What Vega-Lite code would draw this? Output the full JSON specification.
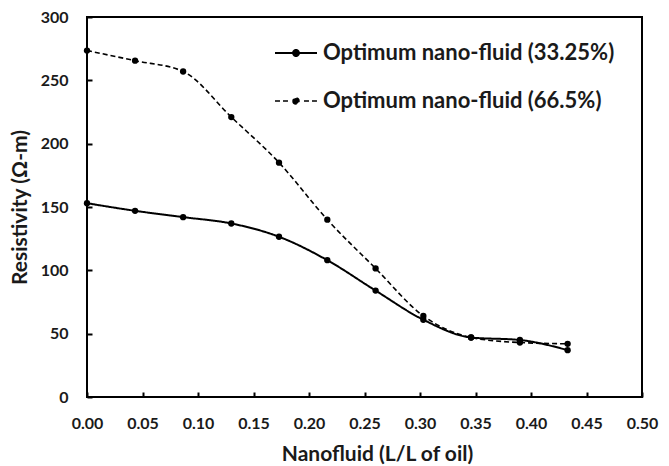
{
  "$schema": "https://vega.github.io/schema/vega-lite/v6.json",
  "width": 555,
  "height": 380,
  "autosize": "none",
  "padding": {"left": 87, "top": 17, "right": 27, "bottom": 69},
  "background": "white",
  "config": {
    "view": {"stroke": "black", "strokeWidth": 2},
    "font": "Lato",
    "axis": {
      "domain": false,
      "grid": false,
      "labelFlush": false,
      "labelFont": "Lato",
      "labelFontWeight": "bold",
      "labelFontSize": 16,
      "labelColor": "#1a1a1a",
      "titleFont": "Lato",
      "titleFontWeight": "bold",
      "titleFontSize": 21,
      "titleColor": "#1a1a1a",
      "tickColor": "black",
      "tickWidth": 2,
      "tickSize": -5
    }
  },
  "data": {
    "values": [
      {"x": 0, "y": 153, "series": "Optimum nano-fluid (33.25%)"},
      {"x": 0.0433, "y": 147, "series": "Optimum nano-fluid (33.25%)"},
      {"x": 0.0866, "y": 142, "series": "Optimum nano-fluid (33.25%)"},
      {"x": 0.13, "y": 137, "series": "Optimum nano-fluid (33.25%)"},
      {"x": 0.173, "y": 126.5, "series": "Optimum nano-fluid (33.25%)"},
      {"x": 0.2165, "y": 108, "series": "Optimum nano-fluid (33.25%)"},
      {"x": 0.26, "y": 84, "series": "Optimum nano-fluid (33.25%)"},
      {"x": 0.303, "y": 61, "series": "Optimum nano-fluid (33.25%)"},
      {"x": 0.346, "y": 47, "series": "Optimum nano-fluid (33.25%)"},
      {"x": 0.39, "y": 45, "series": "Optimum nano-fluid (33.25%)"},
      {"x": 0.433, "y": 37, "series": "Optimum nano-fluid (33.25%)"},
      {"x": 0, "y": 273.5, "series": "Optimum nano-fluid (66.5%)"},
      {"x": 0.0433, "y": 265.5, "series": "Optimum nano-fluid (66.5%)"},
      {"x": 0.0866, "y": 257, "series": "Optimum nano-fluid (66.5%)"},
      {"x": 0.13, "y": 221, "series": "Optimum nano-fluid (66.5%)"},
      {"x": 0.173, "y": 185, "series": "Optimum nano-fluid (66.5%)"},
      {"x": 0.2165, "y": 140, "series": "Optimum nano-fluid (66.5%)"},
      {"x": 0.26, "y": 101.5, "series": "Optimum nano-fluid (66.5%)"},
      {"x": 0.303, "y": 64, "series": "Optimum nano-fluid (66.5%)"},
      {"x": 0.346, "y": 47, "series": "Optimum nano-fluid (66.5%)"},
      {"x": 0.39, "y": 43, "series": "Optimum nano-fluid (66.5%)"},
      {"x": 0.433, "y": 42, "series": "Optimum nano-fluid (66.5%)"}
    ]
  },
  "encoding": {
    "x": {
      "field": "x", "type": "quantitative",
      "scale": {"domain": [0, 0.5], "nice": false, "zero": false},
      "axis": {"values": [0, 0.05, 0.1, 0.15, 0.2, 0.25, 0.3, 0.35, 0.4, 0.45, 0.5], "format": ".2f", "title": "Nanofluid (L/L of oil)", "labelPadding": 23, "titlePadding": 12, "titleX": 290}
    },
    "y": {
      "field": "y", "type": "quantitative",
      "scale": {"domain": [0, 300], "nice": false},
      "axis": {"values": [0, 50, 100, 150, 200, 250, 300], "title": "Resistivity (Ω-m)", "labelPadding": 24, "titlePadding": 10}
    }
  },
  "layer": [
    {
      "mark": {"type": "line", "interpolate": "monotone", "color": "black"},
      "encoding": {
        "color": {
          "field": "series", "type": "nominal",
          "scale": {"domain": ["Optimum nano-fluid (33.25%)", "Optimum nano-fluid (66.5%)"], "range": ["black", "black"]},
          "legend": {
            "orient": "none",
            "legendX": 187,
            "legendY": 14,
            "title": null,
            "padding": 0,
            "symbolSize": 1764,
            "rowPadding": 15,
            "labelOffset": 5,
            "labelFont": "Lato",
            "labelFontWeight": "bold",
            "labelFontSize": 22,
            "labelColor": "#1a1a1a",
            "labelLimit": 400,
            "symbolFillColor": "black",
            "symbolStrokeColor": "black",
            "encode": {
              "symbols": {
                "update": {
                  "shape": {"signal": "datum.value == 'Optimum nano-fluid (33.25%)' ? 'M-1,0H1M-0.14,0A0.14,0.14 0 1,0 0.14,0A0.14,0.14 0 1,0 -0.14,0Z' : 'M-1,0H-0.76M-0.62,0H-0.38M0.38,0H0.62M0.76,0H1M-0.14,0A0.14,0.14 0 1,0 0.14,0A0.14,0.14 0 1,0 -0.14,0Z'"},
                  "size": {"value": 1764},
                  "strokeWidth": {"signal": "datum.value == 'Optimum nano-fluid (33.25%)' ? 2 : 1.5"},
                  "strokeDash": {"value": []},
                  "fill": {"value": "black"},
                  "stroke": {"value": "black"},
                  "opacity": {"value": 1}
                }
              }
            }
          }
        },
        "strokeDash": {
          "field": "series", "type": "nominal",
          "scale": {"domain": ["Optimum nano-fluid (33.25%)", "Optimum nano-fluid (66.5%)"], "range": [[1, 0], [5, 3]]},
          "legend": null
        },
        "strokeWidth": {
          "field": "series", "type": "nominal",
          "scale": {"domain": ["Optimum nano-fluid (33.25%)", "Optimum nano-fluid (66.5%)"], "range": [2, 1.6]},
          "legend": null
        }
      }
    },
    {
      "mark": {"type": "point", "filled": true, "color": "black", "opacity": 1, "size": 40},
      "encoding": {}
    }
  ]
}
